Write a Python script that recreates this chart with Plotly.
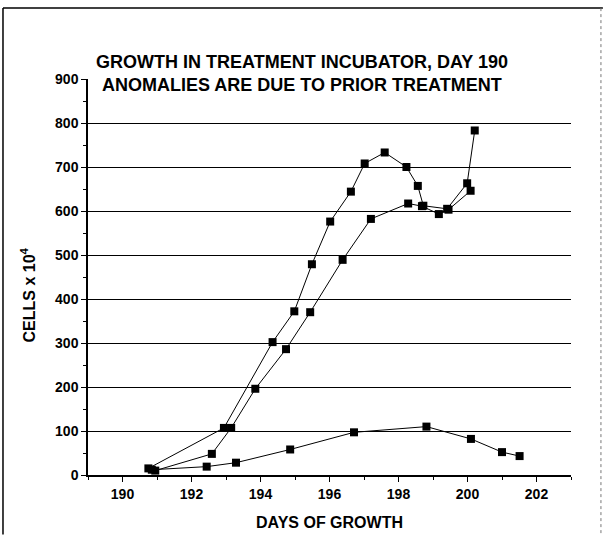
import plotly.graph_objects as go

# Series A (fast growth, peaks ~735)
days_a = [190.75, 192.94, 194.35, 194.98, 195.49, 196.02, 196.62, 197.02, 197.6,
          198.23, 198.56, 198.72, 199.41, 199.99, 200.21]
cells_a = [15, 107, 302, 372, 479, 576, 644, 708, 733,
           700, 657, 612, 605, 663, 783]

# Series B (slower growth, plateau ~600)
days_b = [190.95, 192.59, 193.15, 193.85, 194.74, 195.44, 196.38, 197.2,
          198.28, 198.68, 199.17, 199.45, 200.09]
cells_b = [10, 48, 107, 196, 286, 370, 489, 582,
           617, 611, 593, 603, 646]

# Series C (low growth)
days_c = [190.85, 192.44, 193.29, 194.86, 196.71, 198.81, 200.1, 201.0, 201.51]
cells_c = [12, 19, 28, 58, 97, 110, 82, 52, 43]

y_ticks = [0, 100, 200, 300, 400, 500, 600, 700, 800, 900]
grid_vals = [100, 200, 300, 400, 500, 600, 700, 800]
x_ticks = [190, 192, 194, 196, 198, 200, 202]

title_1 = "GROWTH IN TREATMENT INCUBATOR, DAY 190"
title_2 = "ANOMALIES ARE DUE TO PRIOR TREATMENT"
x_title = "DAYS OF GROWTH"
y_title = "CELLS x 10<sup>4</sup>"

FONT = "Liberation Sans, Arial, sans-serif"

fig = go.Figure()
for xs, ys in [(days_a, cells_a), (days_b, cells_b), (days_c, cells_c)]:
    fig.add_trace(go.Scatter(
        x=xs, y=ys, mode="lines+markers",
        line=dict(color="black", width=1),
        marker=dict(symbol="square", size=8, color="black"),
        showlegend=False, yaxis="y"))

# empty trace that activates the grid-only overlay axis
fig.add_trace(go.Scatter(x=[190], y=[0], yaxis="y2", mode="markers",
                         marker=dict(opacity=0), showlegend=False, hoverinfo="skip"))

fig.update_layout(
    width=605, height=535,
    margin=dict(l=88, r=34, t=79, b=60),
    paper_bgcolor="white", plot_bgcolor="white",
    font=dict(family=FONT, color="black"),
    xaxis=dict(
        range=[189, 203], tickvals=x_ticks, ticks="outside", ticklen=5,
        tickwidth=1, tickcolor="black",
        minor=dict(dtick=1, tick0=189, ticks="outside", ticklen=3, tickcolor="black"),
        showline=True, linecolor="black", linewidth=1.5, showgrid=False,
        zeroline=False,
        tickfont=dict(family=FONT, size=14, weight="bold"),
    ),
    yaxis=dict(
        range=[0, 900], tickvals=y_ticks, ticks="outside", ticklen=5,
        tickwidth=1, tickcolor="black",
        minor=dict(dtick=50, tick0=0, ticks="outside", ticklen=3, tickcolor="black"),
        showline=True, linecolor="black", linewidth=1.5, showgrid=False,
        zeroline=False,
        tickfont=dict(family=FONT, size=14, weight="bold"),
    ),
    yaxis2=dict(
        range=[0, 900], overlaying="y", tickvals=grid_vals, showticklabels=False,
        showgrid=True, gridcolor="black", gridwidth=1, zeroline=False,
        showline=False, ticks="",
    ),
    annotations=[
        dict(text=title_1, x=0.443, y=1.043, xref="paper", yref="paper",
             showarrow=False, xanchor="center", yanchor="middle",
             font=dict(family=FONT, size=18, weight="bold")),
        dict(text=title_2, x=0.443, y=0.985, xref="paper", yref="paper",
             showarrow=False, xanchor="center", yanchor="middle",
             font=dict(family=FONT, size=18, weight="bold")),
        dict(text=x_title, x=0.501, y=-0.119, xref="paper", yref="paper",
             showarrow=False, xanchor="center", yanchor="middle",
             font=dict(family=FONT, size=16, weight="bold")),
        dict(text=y_title, x=-0.125, y=0.455, xref="paper", yref="paper",
             showarrow=False, xanchor="center", yanchor="middle", textangle=-90,
             font=dict(family=FONT, size=16, weight="bold")),
    ],
    shapes=[
        dict(type="line", xref="paper", yref="paper", x0=-0.176, x1=-0.176,
             y0=1.179, y1=-0.15, line=dict(color="black", width=1.5)),
        dict(type="line", xref="paper", yref="paper", x0=-0.176, x1=1.066,
             y0=1.179, y1=1.179, line=dict(color="black", width=1.5)),
        dict(type="line", xref="paper", yref="paper", x0=1.062, x1=1.062,
             y0=1.179, y1=-0.15, line=dict(color="#777777", width=1, dash="dot")),
    ],
)

fig.write_html("out.html",
               config={"displayModeBar": False},
               post_script="document.body.style.margin='0';"
                           "document.body.style.overflow='hidden';")
